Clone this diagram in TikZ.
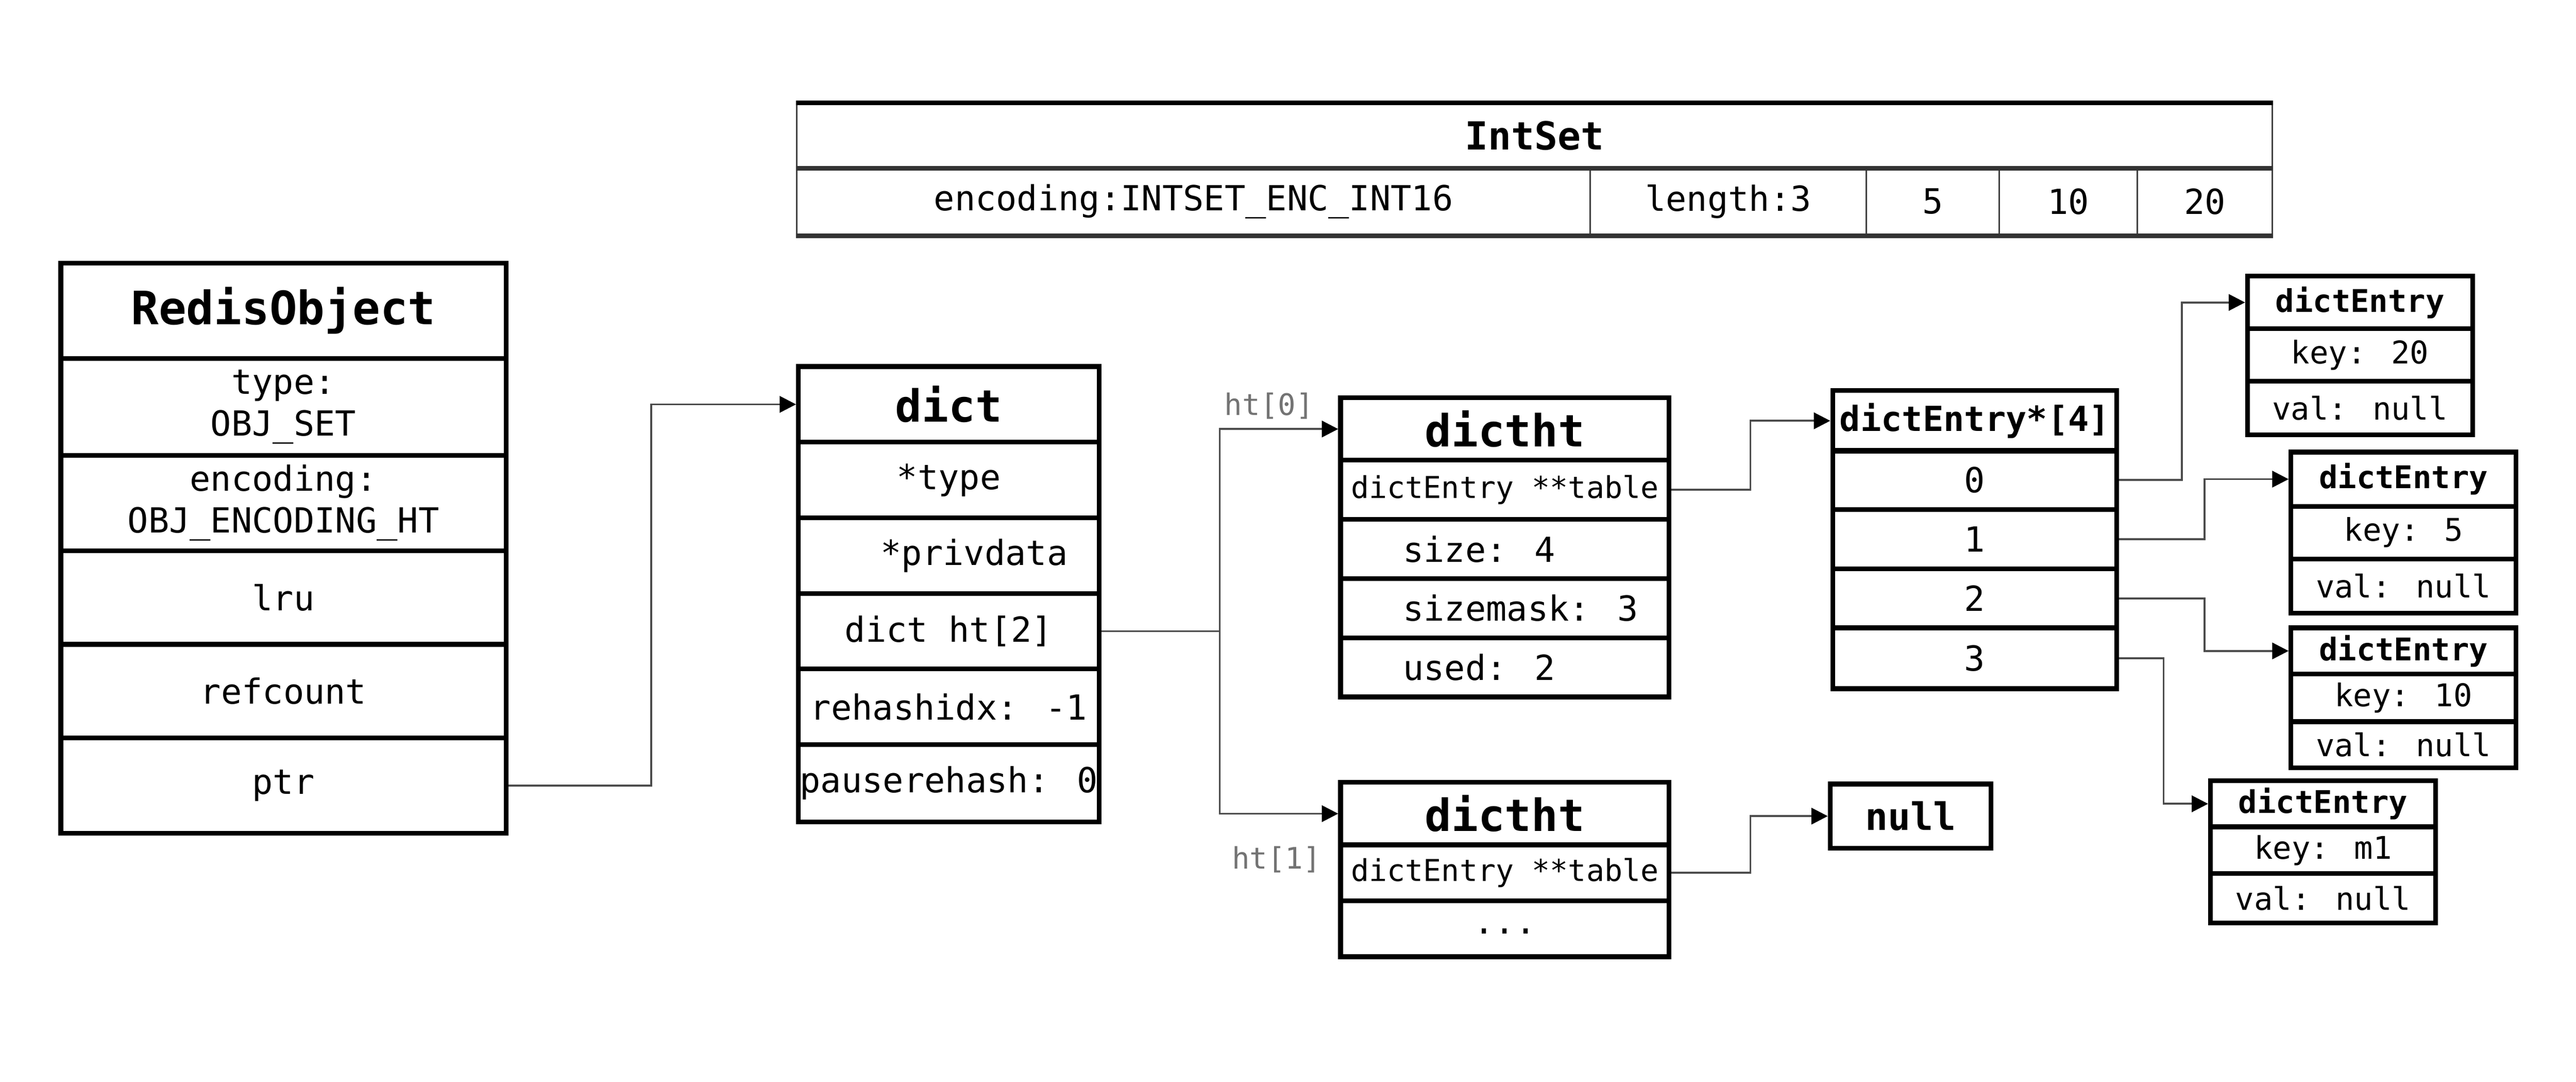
\documentclass[tikz,border=0pt]{standalone}
\usepackage{fontspec}
\setmainfont{DejaVu Sans Mono}
\usetikzlibrary{arrows.meta}
\newcommand\fsz[2]{\fontsize{#1}{#2}\selectfont}
\begin{document}
\begin{tikzpicture}[x=1pt,y=-1pt,
  cell/.style={draw=black, line width=2.9pt, rectangle, inner sep=0pt, align=center, font=\fsz{21}{25.4}},
  big/.style={font=\bfseries\fsz{27}{30}},
  small/.style={font=\fsz{19}{22}},
  smallb/.style={font=\bfseries\fsz{19}{22}},
  tbl/.style={font=\fsz{18.3}{22}},
  thin/.style={draw=black!75, line width=1pt},
  conn/.style={draw=black!70, line width=1.2pt, -{Triangle[length=10pt,width=10pt,color=black]}},
  htlab/.style={text=black!55, font=\fsz{18}{21}, inner sep=0pt}]
\useasboundingbox (0,0) rectangle (1568,658);
\fill[white] (0,0) rectangle (1568,658);

% RedisObject
\begin{scope}[every node/.append style={cell, minimum width=271pt}]
\node[minimum height=58pt, font=\bfseries\fsz{28}{32}] (ro0) at (172.5,189) {RedisObject};
\node[minimum height=59pt] (ro1) at (172.5,247.5) {type:\\OBJ\_SET};
\node[minimum height=58pt] (ro2) at (172.5,306) {encoding:\\OBJ\_ENCODING\_HT};
\node[minimum height=57pt] (ro3) at (172.5,363.5) {lru};
\node[minimum height=57pt] (ro4) at (172.5,420.5) {refcount};
\node[minimum height=58pt] (ro5) at (172.5,478) {ptr};
\end{scope}

% IntSet
\node[cell, thin, minimum width=898pt, minimum height=39pt, font=\bfseries\fsz{23.5}{27}] (is0) at (934,82.5) {IntSet};
\node[cell, thin, minimum width=483pt, minimum height=41pt] (is1) at (726.5,122.5) {encoding:INTSET\_ENC\_INT16};
\node[cell, thin, minimum width=168pt, minimum height=41pt] (is2) at (1052,122.5) {length:3};
\node[cell, thin, minimum width=81pt, minimum height=41pt] (is3) at (1176.5,122.5) {5};
\node[cell, thin, minimum width=84pt, minimum height=41pt] (is4) at (1259,122.5) {10};
\node[cell, thin, minimum width=82pt, minimum height=41pt] (is5) at (1342,122.5) {20};
\draw[line width=2.9pt, black] (is0.north west) -- (is0.north east);
\draw[line width=2.9pt, black!80] (is0.south west) -- (is0.south east);
\draw[line width=2.9pt, black!80] (is1.south west) -- (is5.south east);

% dict
\begin{scope}[every node/.append style={cell, minimum width=183pt, minimum height=46pt}]
\node[big] (d0) at (577.5,246) {dict};
\node (d1) at (577.5,292) {*type};
\node (d2) at (577.5,338) {\hspace*{31pt}*privdata};
\node (d3) at (577.5,384) {dict ht[2]};
\node (d4) at (577.5,430) {rehashidx: -1};
\node[minimum height=47pt] (d5) at (577.5,476.5) {pauserehash: 0};
\end{scope}

% dictht 0
\begin{scope}[every node/.append style={cell, minimum width=200pt, minimum height=36pt}]
\node[big, minimum height=38pt] (ha0) at (916,261) {dictht};
\node[tbl] (ha1) at (916,298) {dictEntry **table};
\node (ha2) at (916,334) {\makebox[124pt][l]{size: 4}};
\node (ha3) at (916,370) {\makebox[124pt][l]{sizemask: 3}};
\node (ha4) at (916,406) {\makebox[124pt][l]{used: 2}};
% dictht 1
\node[big, minimum height=38pt] (hb0) at (916,495) {dictht};
\node[tbl, minimum height=34pt] (hb1) at (916,531) {dictEntry **table};
\node[minimum height=34pt] (hb2) at (916,565) {\raisebox{-6pt}{...}};
\end{scope}

% dictEntry*[4]
\begin{scope}[every node/.append style={cell, minimum width=173pt, minimum height=36pt}]
\node[font=\bfseries\fsz{21}{25}, minimum height=37pt] (t0) at (1202,256) {dictEntry*[4]};
\node (t1) at (1202,292) {0};
\node (t2) at (1202,328) {1};
\node (t3) at (1202,364) {2};
\node[minimum height=37pt] (t4) at (1202,400.5) {3};
\end{scope}

% null
\node[cell, minimum width=98pt, minimum height=39pt, font=\bfseries\fsz{23}{27}] (nl) at (1163,496.5) {null};

% dictEntry nodes
\begin{scope}[every node/.append style={cell, small, minimum width=137pt}]
\node[smallb, minimum height=32pt] (e1a) at (1436.5,184) {dictEntry};
\node[minimum height=32pt] (e1b) at (1436.5,216) {key: 20};
\node[minimum height=32.5pt] (e1c) at (1436.5,248.25) {val: null};

\node[smallb, minimum height=33pt] (e2a) at (1463,291.5) {dictEntry};
\node[minimum height=32pt] (e2b) at (1463,324) {key: 5};
\node[minimum height=33pt] (e2c) at (1463,356.5) {val: null};

\node[smallb, minimum height=28pt] (e3a) at (1463,396) {dictEntry};
\node[minimum height=29pt] (e3b) at (1463,424.5) {key: 10};
\node[minimum height=28pt] (e3c) at (1463,453) {val: null};

\node[smallb, minimum height=28pt] (e4a) at (1414,489) {dictEntry};
\node[minimum height=28.5pt] (e4b) at (1414,517.25) {key: m1};
\node[minimum height=30pt] (e4c) at (1414,546.5) {val: null};
\end{scope}

% labels
\node[htlab] (lh0) at (772.5,247) {ht[0]};
\node[htlab] (lh1) at (777,523) {ht[1]};

% connectors
\draw[conn] (ro5.east) -- ++(87,0) |- (d0.west);
\draw[draw=black!70, line width=1.2pt] (d3.east) -- ++(72,0) coordinate (hub);
\draw[conn] (hub) |- (ha0.west);
\draw[conn] (hub) |- (hb0.west);
\draw[conn] (ha1.east) -- ++(48,0) |- (t0.west);
\draw[conn] (hb1.east) -- ++(48,0) |- (nl.west);
\draw[conn] (t1.east) -- ++(38,0) |- (e1a.west);
\draw[conn] (t2.east) -- ++(52,0) |- (e2a.west);
\draw[conn] (t3.east) -- ++(52,0) |- (e3a.west);
\draw[conn] (t4.east) -- ++(27,0) |- (e4a.west);
\end{tikzpicture}
\end{document}
